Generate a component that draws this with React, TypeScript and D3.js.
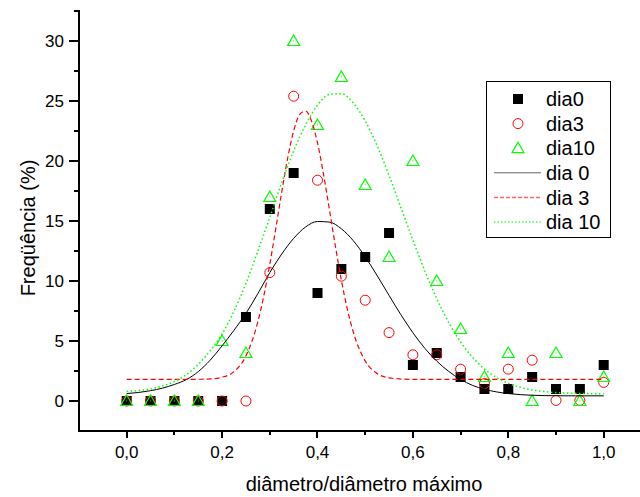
import React from "react";
import * as d3 from "d3";

const sampleX = [0, 0.05, 0.1, 0.15, 0.2, 0.25, 0.3, 0.35, 0.4, 0.45, 0.5, 0.55, 0.6, 0.65, 0.7, 0.75, 0.8, 0.85, 0.9, 0.95, 1.0];
const dia0 = [0, 0, 0, 0, 0, 7, 16, 19, 9, 11, 12, 14, 3, 4, 2, 1, 1, 2, 1, 1, 3];
const dia3 = [0, 0, 0, 0, 0, 0, 10.7, 25.4, 18.4, 10.4, 8.4, 5.7, 3.85, 3.85, 2.65, 1.45, 2.65, 3.4, 0.05, 0.05, 1.55];
const dia10 = [0, 0, 0, 0, 5, 4, 17, 30, 23, 27, 18, 12, 20, 10, 6, 2, 4, 0, 4, 0, 2];

const fitX = [0, 0.025, 0.05, 0.075, 0.1, 0.125, 0.15, 0.175, 0.2, 0.225, 0.25, 0.275, 0.3, 0.325, 0.35, 0.375, 0.4, 0.425, 0.45, 0.475, 0.5, 0.525, 0.55, 0.575, 0.6, 0.625, 0.65, 0.675, 0.7, 0.725, 0.75, 0.775, 0.8, 0.825, 0.85, 0.875, 0.9, 0.925, 0.95, 0.975, 1.0];
const fit0 = [0.62, 0.71, 0.86, 1.07, 1.38, 1.78, 2.45, 3.4, 4.6, 5.9, 7.3, 8.95, 10.7, 12.25, 13.55, 14.5, 14.96, 14.91, 14.35, 13.36, 12.02, 10.45, 8.8, 7.18, 5.69, 4.39, 3.32, 2.47, 1.8, 1.3, 0.98, 0.76, 0.62, 0.53, 0.48, 0.45, 0.44, 0.43, 0.43, 0.43, 0.43];
const fit10 = [0.8, 0.88, 1.0, 1.25, 1.62, 2.2, 3.05, 4.2, 5.6, 7.5, 9.8, 12.5, 15.3, 18.2, 20.84, 23.0, 24.65, 25.55, 25.61, 24.83, 23.34, 21.27, 18.8, 16.11, 13.41, 10.84, 8.53, 6.55, 4.92, 3.64, 2.67, 1.97, 1.47, 1.14, 0.92, 0.79, 0.71, 0.66, 0.63, 0.61, 0.61];
const fit3X = [0, 0.025, 0.05, 0.075, 0.1, 0.125, 0.15, 0.175, 0.2, 0.225, 0.25, 0.275, 0.2875, 0.3, 0.3125, 0.325, 0.3375, 0.35, 0.3625, 0.375, 0.3875, 0.4, 0.4125, 0.425, 0.4375, 0.45, 0.4625, 0.475, 0.5, 0.525, 0.55, 0.575, 0.6, 0.7, 0.8, 0.9, 1.0];
const fit3 = [1.8, 1.8, 1.8, 1.8, 1.8, 1.8, 1.81, 1.84, 1.98, 2.45, 3.76, 6.61, 8.77, 11.39, 14.36, 17.41, 20.24, 22.5, 23.87, 24.17, 23.34, 21.51, 18.93, 15.95, 12.91, 10.08, 7.67, 5.75, 3.34, 2.29, 1.93, 1.83, 1.8, 1.8, 1.8, 1.8, 1.8];

const xMajor = [0, 0.2, 0.4, 0.6, 0.8, 1.0];
const xMinor = [0.1, 0.3, 0.5, 0.7, 0.9];
const yMajor = [0, 5, 10, 15, 20, 25, 30];
const yMinor = [2.5, 7.5, 12.5, 17.5, 22.5, 27.5, 32.5];

const legendItems = ["dia0", "dia3", "dia10", "dia 0", "dia 3", "dia 10"];

const FONT = "'Liberation Sans', Arial, Helvetica, sans-serif";

export default function App() {
  const x = d3.scaleLinear().domain([-0.1, 1.1]).range([79, 651.4]);
  const y = d3.scaleLinear().domain([-2.5, 32.5]).range([431, 11]);
  const line = (xs: number[], ys: number[]) =>
    d3.line<number>().x((d, i) => x(xs[i])).y((d) => y(d)).curve(d3.curveMonotoneX)(ys) || "";

  const tri = (cx: number, cy: number) =>
    `M${cx},${cy - 6}L${cx + 6},${cy + 4.5}L${cx - 6},${cy + 4.5}Z`;

  const legX = 486, legY = 81, legW = 124, legH = 156;
  const rowY = (i: number) => 99 + i * 24.6;

  return (
    <svg width={640} height={497} style={{ position: "absolute", left: 0, top: 0, background: "#fff" }} fontFamily={FONT}>
      <rect x={0} y={0} width={640} height={497} fill="#fff" />
      {/* axes */}
      <line x1={79} y1={10} x2={79} y2={432} stroke="#000" strokeWidth={2} />
      <line x1={78} y1={431} x2={640} y2={431} stroke="#000" strokeWidth={2} />
      {yMajor.map((v) => (
        <g key={"ym" + v}>
          <line x1={69} x2={79} y1={Math.round(y(v))} y2={Math.round(y(v))} stroke="#000" strokeWidth={2} />
          <text x={64} y={y(v)} dy="0.36em" textAnchor="end" fontSize={17}>{v}</text>
        </g>
      ))}
      {yMinor.map((v) => (
        <line key={"yn" + v} x1={74} x2={79} y1={Math.round(y(v))} y2={Math.round(y(v))} stroke="#000" strokeWidth={2} />
      ))}
      {xMajor.map((v) => (
        <g key={"xm" + v}>
          <line x1={Math.round(x(v))} x2={Math.round(x(v))} y1={431} y2={438} stroke="#000" strokeWidth={2} />
          <text x={x(v)} y={458} textAnchor="middle" fontSize={17}>{v.toFixed(1).replace(".", ",")}</text>
        </g>
      ))}
      {xMinor.map((v) => (
        <line key={"xn" + v} x1={Math.round(x(v))} x2={Math.round(x(v))} y1={431} y2={435} stroke="#000" strokeWidth={2} />
      ))}
      <text x={364} y={491} textAnchor="middle" fontSize={20}>diâmetro/diâmetro máximo</text>
      <text transform="translate(35,228) rotate(-90)" textAnchor="middle" fontSize={20}>Freqüência (%)</text>

      {/* markers */}
      {dia0.map((v, i) => (
        <rect key={"s" + i} x={x(sampleX[i]) - 5} y={y(v) - 5} width={10} height={10} fill="#000" />
      ))}
      {dia3.map((v, i) => (
        <circle key={"c" + i} cx={x(sampleX[i])} cy={y(v)} r={5} fill="none" stroke="#ff0000" strokeWidth={1} />
      ))}
      {dia10.map((v, i) => (
        <g key={"t" + i}>
          <path d={tri(x(sampleX[i]), y(v))} fill="none" stroke="#00ff00" strokeWidth={1.2} />
          <rect x={x(sampleX[i]) - 0.5} y={y(v) - 0.5} width={1} height={1} fill="#00ff00" />
        </g>
      ))}

      {/* fitted curves */}
      <path d={line(fitX, fit0)} fill="none" stroke="#000" strokeWidth={1} />
      <path d={line(fit3X, fit3)} fill="none" stroke="#ff0000" strokeWidth={1.2} strokeDasharray="5,3" />
      <path d={line(fitX, fit10)} fill="none" stroke="#00ff00" strokeWidth={1.5} strokeDasharray="1.5,2.5" />

      {/* legend */}
      <rect x={legX + 0.5} y={legY + 0.5} width={legW} height={legH} fill="#fff" stroke="#000" strokeWidth={1} />
      <rect x={518 - 5} y={rowY(0) - 5} width={10} height={10} fill="#000" />
      <circle cx={518} cy={rowY(1)} r={5} fill="none" stroke="#ff0000" strokeWidth={1} />
      <path d={tri(518, rowY(2))} fill="none" stroke="#00ff00" strokeWidth={1.2} />
      <line x1={494} x2={541} y1={rowY(3)} y2={rowY(3)} stroke="#000" strokeWidth={1} opacity={0.6} />
      <line x1={494} x2={541} y1={rowY(4)} y2={rowY(4)} stroke="#ff0000" strokeWidth={1.5} strokeDasharray="4,2" opacity={0.6} />
      <line x1={494} x2={541} y1={rowY(5)} y2={rowY(5)} stroke="#00ff00" strokeWidth={1.5} strokeDasharray="1.5,2" opacity={0.7} />
      {legendItems.map((t, i) => (
        <text key={t} x={546} y={rowY(i)} dy="0.36em" fontSize={20}>{t}</text>
      ))}
    </svg>
  );
}
